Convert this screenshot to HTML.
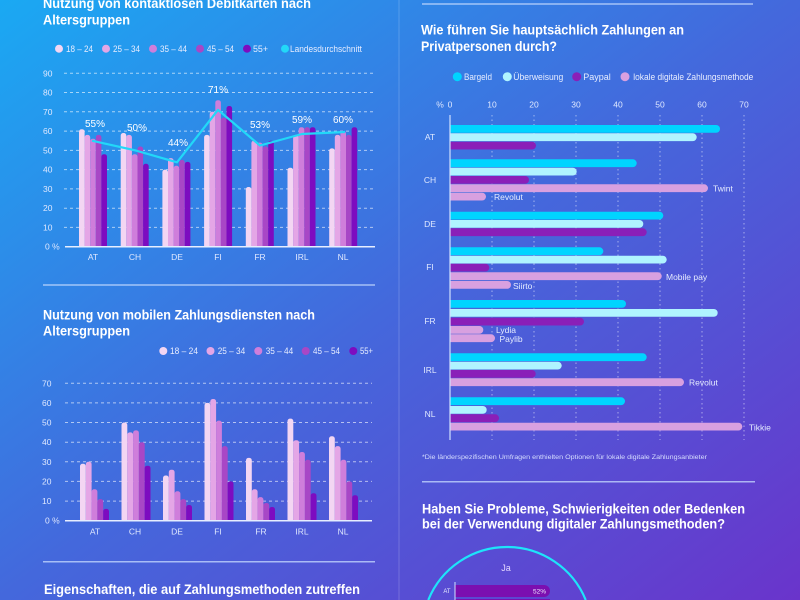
<!DOCTYPE html>
<html><head><meta charset="utf-8"><style>
html,body{margin:0;padding:0;width:800px;height:600px;overflow:hidden;background:#3f6fe0;}
svg{display:block;font-family:"Liberation Sans",sans-serif;}
</style></head><body>
<svg width="800" height="600" viewBox="0 0 800 600" xmlns="http://www.w3.org/2000/svg">
<defs>
<linearGradient id="bg" x1="0" y1="0" x2="1" y2="1">
<stop offset="0" stop-color="#1aa9f3"/><stop offset="0.5" stop-color="#4468dc"/><stop offset="1" stop-color="#6a34cb"/>
</linearGradient>
<clipPath id="c1"><rect x="0" y="0" width="400" height="246.7"/></clipPath>
<clipPath id="c2"><rect x="0" y="300" width="400" height="220.7"/></clipPath>
<clipPath id="c3"><rect x="450" y="100" width="350" height="350"/></clipPath>
</defs>
<rect width="800" height="600" fill="url(#bg)"/>
<line x1="399" y1="0" x2="399" y2="600" stroke="#ffffff" stroke-opacity="0.18" stroke-width="1"/>

<!-- ===== Chart 1 ===== -->
<g fill="#ffffff" font-weight="bold" font-size="14">
<text x="43" y="8" textLength="268" lengthAdjust="spacingAndGlyphs">Nutzung von kontaktlosen Debitkarten nach</text>
<text x="43" y="24.5" textLength="87" lengthAdjust="spacingAndGlyphs">Altersgruppen</text>
</g>
<g font-size="9" fill="#e6ecff">
<circle cx="59" cy="48.7" r="4" fill="#f3d6f3"/><text x="66" y="51.8" textLength="27" lengthAdjust="spacingAndGlyphs">18 – 24</text>
<circle cx="106" cy="48.7" r="4" fill="#e4a6e6"/><text x="113" y="51.8" textLength="27" lengthAdjust="spacingAndGlyphs">25 – 34</text>
<circle cx="153" cy="48.7" r="4" fill="#cf7edb"/><text x="160" y="51.8" textLength="27" lengthAdjust="spacingAndGlyphs">35 – 44</text>
<circle cx="200" cy="48.7" r="4" fill="#a847c6"/><text x="207" y="51.8" textLength="27" lengthAdjust="spacingAndGlyphs">45 – 54</text>
<circle cx="247" cy="48.7" r="4" fill="#7d0cc0"/><text x="253" y="51.8" textLength="15" lengthAdjust="spacingAndGlyphs">55+</text>
<circle cx="285" cy="48.7" r="4" fill="#22d8f8"/><text x="290" y="51.8" textLength="72" lengthAdjust="spacingAndGlyphs">Landesdurchschnitt</text>
</g>
<g stroke="#ffffff" stroke-opacity="0.6" stroke-width="1" stroke-dasharray="3,3">
<line x1="64" y1="73.3" x2="374" y2="73.3"/><line x1="64" y1="92.5" x2="374" y2="92.5"/>
<line x1="64" y1="111.8" x2="374" y2="111.8"/><line x1="64" y1="131.1" x2="374" y2="131.1"/>
<line x1="64" y1="150.4" x2="374" y2="150.4"/><line x1="64" y1="169.6" x2="374" y2="169.6"/>
<line x1="64" y1="188.9" x2="374" y2="188.9"/><line x1="64" y1="208.2" x2="374" y2="208.2"/>
<line x1="64" y1="227.4" x2="374" y2="227.4"/>
</g>
<g font-size="8.5" fill="#dfe8ff">
<text x="43" y="76.3">90</text><text x="43" y="95.5">80</text><text x="43" y="114.8">70</text>
<text x="43" y="134.1">60</text><text x="43" y="153.4">50</text><text x="43" y="172.6">40</text>
<text x="43" y="191.9">30</text><text x="43" y="211.2">20</text><text x="43" y="230.4">10</text>
<text x="45" y="249.7">0 %</text>
</g>
<g clip-path="url(#c1)">
<g fill="#f3d6f3"><rect x="79" y="129.2" width="5.6" height="150" rx="2.5"/><rect x="120.7" y="133" width="5.6" height="150" rx="2.5"/><rect x="162.4" y="169.6" width="5.6" height="150" rx="2.5"/><rect x="204.1" y="134.9" width="5.6" height="150" rx="2.5"/><rect x="245.8" y="187" width="5.6" height="150" rx="2.5"/><rect x="287.5" y="167.7" width="5.6" height="150" rx="2.5"/><rect x="329.2" y="148.4" width="5.6" height="150" rx="2.5"/></g>
<g fill="#e4a6e6"><rect x="84.6" y="134.9" width="5.6" height="150" rx="2.5"/><rect x="126.3" y="134.9" width="5.6" height="150" rx="2.5"/><rect x="168" y="158.1" width="5.6" height="150" rx="2.5"/><rect x="209.7" y="111.8" width="5.6" height="150" rx="2.5"/><rect x="251.4" y="140.7" width="5.6" height="150" rx="2.5"/><rect x="293.1" y="134.9" width="5.6" height="150" rx="2.5"/><rect x="334.8" y="134.9" width="5.6" height="150" rx="2.5"/></g>
<g fill="#cf7edb"><rect x="90.2" y="138.8" width="5.6" height="150" rx="2.5"/><rect x="131.9" y="154.2" width="5.6" height="150" rx="2.5"/><rect x="173.6" y="165.8" width="5.6" height="150" rx="2.5"/><rect x="215.3" y="100.2" width="5.6" height="150" rx="2.5"/><rect x="257" y="142.6" width="5.6" height="150" rx="2.5"/><rect x="298.7" y="127.2" width="5.6" height="150" rx="2.5"/><rect x="340.4" y="131.1" width="5.6" height="150" rx="2.5"/></g>
<g fill="#a847c6"><rect x="95.8" y="134.9" width="5.6" height="150" rx="2.5"/><rect x="137.5" y="146.5" width="5.6" height="150" rx="2.5"/><rect x="179.2" y="160" width="5.6" height="150" rx="2.5"/><rect x="220.9" y="117.6" width="5.6" height="150" rx="2.5"/><rect x="262.6" y="146.5" width="5.6" height="150" rx="2.5"/><rect x="304.3" y="127.2" width="5.6" height="150" rx="2.5"/><rect x="346" y="134.9" width="5.6" height="150" rx="2.5"/></g>
<g fill="#7d0cc0"><rect x="101.4" y="154.2" width="5.6" height="150" rx="2.5"/><rect x="143.1" y="163.8" width="5.6" height="150" rx="2.5"/><rect x="184.8" y="161.9" width="5.6" height="150" rx="2.5"/><rect x="226.5" y="106" width="5.6" height="150" rx="2.5"/><rect x="268.2" y="140.7" width="5.6" height="150" rx="2.5"/><rect x="309.9" y="127.2" width="5.6" height="150" rx="2.5"/><rect x="351.6" y="127.2" width="5.6" height="150" rx="2.5"/></g>
</g>
<line x1="65" y1="246.7" x2="375" y2="246.7" stroke="#e6eeff" stroke-width="1.5"/>
<polyline points="92,140.7 135,150.3 177,162.3 218,109.9 260,145.5 302,134 345,132" fill="none" stroke="#22d8f8" stroke-width="2.2" stroke-linejoin="round"/>
<g font-size="10" fill="#ffffff" text-anchor="middle">
<text x="95" y="127">55%</text><text x="137" y="131">50%</text><text x="178" y="146">44%</text>
<text x="218" y="93">71%</text><text x="260" y="128">53%</text><text x="302" y="123">59%</text><text x="343" y="123">60%</text>
</g>
<g font-size="8.5" fill="#dfe8ff" text-anchor="middle">
<text x="93" y="260">AT</text><text x="135" y="260">CH</text><text x="177" y="260">DE</text><text x="218" y="260">FI</text>
<text x="260" y="260">FR</text><text x="302" y="260">IRL</text><text x="343" y="260">NL</text>
</g>

<line x1="43" y1="285" x2="375" y2="285" stroke="#c8dcff" stroke-opacity="0.75" stroke-width="1.5"/>

<!-- ===== Chart 2 ===== -->
<g fill="#ffffff" font-weight="bold" font-size="14">
<text x="43" y="319.3" textLength="272" lengthAdjust="spacingAndGlyphs">Nutzung von mobilen Zahlungsdiensten nach</text>
<text x="43" y="335.7" textLength="87" lengthAdjust="spacingAndGlyphs">Altersgruppen</text>
</g>
<g font-size="9" fill="#e6ecff">
<circle cx="163.3" cy="351" r="4" fill="#f3d6f3"/><text x="170" y="354" textLength="28" lengthAdjust="spacingAndGlyphs">18 – 24</text>
<circle cx="210.5" cy="351" r="4" fill="#e4a6e6"/><text x="217.7" y="354" textLength="27.5" lengthAdjust="spacingAndGlyphs">25 – 34</text>
<circle cx="258.3" cy="351" r="4" fill="#cf7edb"/><text x="265.7" y="354" textLength="27.5" lengthAdjust="spacingAndGlyphs">35 – 44</text>
<circle cx="305.7" cy="351" r="4" fill="#a847c6"/><text x="313" y="354" textLength="27" lengthAdjust="spacingAndGlyphs">45 – 54</text>
<circle cx="353.3" cy="351" r="4" fill="#7d0cc0"/><text x="360" y="354" textLength="13" lengthAdjust="spacingAndGlyphs">55+</text>
</g>
<g stroke="#ffffff" stroke-opacity="0.6" stroke-width="1" stroke-dasharray="3,3">
<line x1="65" y1="383.3" x2="372" y2="383.3"/><line x1="65" y1="402.9" x2="372" y2="402.9"/>
<line x1="65" y1="422.5" x2="372" y2="422.5"/><line x1="65" y1="442.2" x2="372" y2="442.2"/>
<line x1="65" y1="461.8" x2="372" y2="461.8"/><line x1="65" y1="481.4" x2="372" y2="481.4"/>
<line x1="65" y1="501.1" x2="372" y2="501.1"/>
</g>
<g font-size="8.5" fill="#dfe8ff">
<text x="42" y="386.3">70</text><text x="42" y="405.9">60</text><text x="42" y="425.5">50</text>
<text x="42" y="445.2">40</text><text x="42" y="464.8">30</text><text x="42" y="484.4">20</text>
<text x="42" y="504.1">10</text><text x="45" y="523.7">0 %</text>
</g>
<g clip-path="url(#c2)">
<g fill="#f3d6f3"><rect x="80" y="463.8" width="5.8" height="58.2" rx="2.5"/><rect x="121.5" y="422.5" width="5.8" height="99.5" rx="2.5"/><rect x="163" y="475.5" width="5.8" height="46.5" rx="2.5"/><rect x="204.5" y="402.9" width="5.8" height="119.1" rx="2.5"/><rect x="246" y="457.9" width="5.8" height="64.1" rx="2.5"/><rect x="287.5" y="418.6" width="5.8" height="103.4" rx="2.5"/><rect x="329" y="436.3" width="5.8" height="85.7" rx="2.5"/></g>
<g fill="#e4a6e6"><rect x="85.8" y="461.8" width="5.8" height="60.2" rx="2.5"/><rect x="127.3" y="432.4" width="5.8" height="89.6" rx="2.5"/><rect x="168.8" y="469.7" width="5.8" height="52.3" rx="2.5"/><rect x="210.3" y="399" width="5.8" height="123" rx="2.5"/><rect x="251.8" y="489.3" width="5.8" height="32.7" rx="2.5"/><rect x="293.3" y="440.2" width="5.8" height="81.8" rx="2.5"/><rect x="334.8" y="446.1" width="5.8" height="75.9" rx="2.5"/></g>
<g fill="#cf7edb"><rect x="91.6" y="489.3" width="5.8" height="32.7" rx="2.5"/><rect x="133.1" y="430.4" width="5.8" height="91.6" rx="2.5"/><rect x="174.6" y="491.3" width="5.8" height="30.7" rx="2.5"/><rect x="216.1" y="420.6" width="5.8" height="101.4" rx="2.5"/><rect x="257.6" y="497.1" width="5.8" height="24.9" rx="2.5"/><rect x="299.1" y="452" width="5.8" height="70" rx="2.5"/><rect x="340.6" y="459.8" width="5.8" height="62.2" rx="2.5"/></g>
<g fill="#a847c6"><rect x="97.4" y="499.1" width="5.8" height="22.9" rx="2.5"/><rect x="138.9" y="442.2" width="5.8" height="79.8" rx="2.5"/><rect x="180.4" y="499.1" width="5.8" height="22.9" rx="2.5"/><rect x="221.9" y="446.1" width="5.8" height="75.9" rx="2.5"/><rect x="263.4" y="503" width="5.8" height="19" rx="2.5"/><rect x="304.9" y="459.8" width="5.8" height="62.2" rx="2.5"/><rect x="346.4" y="481.4" width="5.8" height="40.6" rx="2.5"/></g>
<g fill="#7d0cc0"><rect x="103.2" y="508.9" width="5.8" height="13.1" rx="2.5"/><rect x="144.7" y="465.7" width="5.8" height="56.3" rx="2.5"/><rect x="186.2" y="505" width="5.8" height="17" rx="2.5"/><rect x="227.7" y="481.4" width="5.8" height="40.6" rx="2.5"/><rect x="269.2" y="507" width="5.8" height="15" rx="2.5"/><rect x="310.7" y="493.2" width="5.8" height="28.8" rx="2.5"/><rect x="352.2" y="495.2" width="5.8" height="26.8" rx="2.5"/></g>
</g>
<line x1="65" y1="520.7" x2="372" y2="520.7" stroke="#e6eeff" stroke-width="1.5"/>
<g font-size="8.5" fill="#dfe8ff" text-anchor="middle">
<text x="95" y="534.7">AT</text><text x="135" y="534.7">CH</text><text x="177" y="534.7">DE</text><text x="218" y="534.7">FI</text>
<text x="261" y="534.7">FR</text><text x="302" y="534.7">IRL</text><text x="343" y="534.7">NL</text>
</g>

<line x1="43" y1="561.7" x2="375" y2="561.7" stroke="#c8dcff" stroke-opacity="0.75" stroke-width="1.5"/>
<text x="44" y="594" fill="#ffffff" font-weight="bold" font-size="14" textLength="316" lengthAdjust="spacingAndGlyphs">Eigenschaften, die auf Zahlungsmethoden zutreffen</text>

<!-- ===== Right chart ===== -->
<line x1="422" y1="4" x2="753" y2="4" stroke="#c8dcff" stroke-opacity="0.75" stroke-width="1.5"/>
<g fill="#ffffff" font-weight="bold" font-size="14">
<text x="421" y="34.3" textLength="263" lengthAdjust="spacingAndGlyphs">Wie führen Sie hauptsächlich Zahlungen an</text>
<text x="421" y="51" textLength="136" lengthAdjust="spacingAndGlyphs">Privatpersonen durch?</text>
</g>
<g font-size="9" fill="#e6ecff">
<circle cx="457.3" cy="76.7" r="4.5" fill="#00d4ff"/><text x="464" y="79.8" textLength="28" lengthAdjust="spacingAndGlyphs">Bargeld</text>
<circle cx="507.3" cy="76.7" r="4.5" fill="#b0f4ff"/><text x="513.3" y="79.8" textLength="50" lengthAdjust="spacingAndGlyphs">Überweisung</text>
<circle cx="576.7" cy="76.7" r="4.5" fill="#8a1fb8"/><text x="583.3" y="79.8" textLength="27.5" lengthAdjust="spacingAndGlyphs">Paypal</text>
<circle cx="625" cy="76.7" r="4.5" fill="#d8a0e0"/><text x="633.3" y="79.8" textLength="120" lengthAdjust="spacingAndGlyphs">lokale digitale Zahlungsmethode</text>
</g>
<g font-size="8.5" fill="#dfe8ff" text-anchor="middle">
<text x="440" y="107.5">%</text><text x="450" y="107.5">0</text><text x="492" y="107.5">10</text><text x="534" y="107.5">20</text>
<text x="576" y="107.5">30</text><text x="618" y="107.5">40</text><text x="660" y="107.5">50</text>
<text x="702" y="107.5">60</text><text x="744" y="107.5">70</text>
</g>
<g stroke="#ffffff" stroke-opacity="0.5" stroke-width="1" stroke-dasharray="1.5,3">
<line x1="492" y1="115" x2="492" y2="440"/><line x1="534" y1="115" x2="534" y2="440"/>
<line x1="576" y1="115" x2="576" y2="440"/><line x1="618" y1="115" x2="618" y2="440"/>
<line x1="660" y1="115" x2="660" y2="440"/><line x1="702" y1="115" x2="702" y2="440"/>
<line x1="744" y1="115" x2="744" y2="440"/>
</g>
<g clip-path="url(#c3)">
<g fill="#00d4ff">
<rect x="440" y="125" width="280" height="7.8" rx="3.9"/>
<rect x="440" y="159.3" width="196.7" height="7.8" rx="3.9"/>
<rect x="440" y="211.7" width="223.3" height="7.8" rx="3.9"/>
<rect x="440" y="247.3" width="163.3" height="7.8" rx="3.9"/>
<rect x="440" y="300" width="186" height="7.8" rx="3.9"/>
<rect x="440" y="353.3" width="206.7" height="7.8" rx="3.9"/>
<rect x="440" y="397.3" width="185" height="7.8" rx="3.9"/>
</g>
<g fill="#b0f4ff">
<rect x="440" y="133.3" width="256.7" height="7.8" rx="3.9"/>
<rect x="440" y="167.7" width="136.7" height="7.8" rx="3.9"/>
<rect x="440" y="220" width="203.3" height="7.8" rx="3.9"/>
<rect x="440" y="255.7" width="226.7" height="7.8" rx="3.9"/>
<rect x="440" y="309" width="277.7" height="7.8" rx="3.9"/>
<rect x="440" y="361.7" width="121.7" height="7.8" rx="3.9"/>
<rect x="440" y="406" width="46.7" height="7.8" rx="3.9"/>
</g>
<g fill="#8a1fb8">
<rect x="440" y="141.7" width="96" height="7.8" rx="3.9"/>
<rect x="440" y="176" width="89" height="7.8" rx="3.9"/>
<rect x="440" y="228.3" width="206.7" height="7.8" rx="3.9"/>
<rect x="440" y="263.7" width="49.3" height="7.8" rx="3.9"/>
<rect x="440" y="317.7" width="144" height="7.8" rx="3.9"/>
<rect x="440" y="370" width="95.7" height="7.8" rx="3.9"/>
<rect x="440" y="414.3" width="59" height="7.8" rx="3.9"/>
</g>
<g fill="#d8a0e0">
<rect x="440" y="184.3" width="268" height="7.8" rx="3.9"/>
<rect x="440" y="192.7" width="46" height="7.8" rx="3.9"/>
<rect x="440" y="272.3" width="221.7" height="7.8" rx="3.9"/>
<rect x="440" y="281" width="71" height="7.8" rx="3.9"/>
<rect x="440" y="326" width="43.3" height="7.8" rx="3.9"/>
<rect x="440" y="334.3" width="55" height="7.8" rx="3.9"/>
<rect x="440" y="378.3" width="244" height="7.8" rx="3.9"/>
<rect x="440" y="422.7" width="302.3" height="7.8" rx="3.9"/>
</g>
</g>
<line x1="450" y1="115" x2="450" y2="440" stroke="#d0e0ff" stroke-width="1.2"/>
<g font-size="8.5" fill="#e6ecff">
<text x="713" y="191.3">Twint</text><text x="494" y="200">Revolut</text>
<text x="666" y="280">Mobile pay</text><text x="513" y="289">Siirto</text>
<text x="496" y="333">Lydia</text><text x="499.5" y="342">Paylib</text>
<text x="689" y="385.5">Revolut</text><text x="749" y="430.5">Tikkie</text>
</g>
<g font-size="8.5" fill="#dfe8ff" text-anchor="middle">
<text x="430" y="140">AT</text><text x="430" y="183">CH</text><text x="430" y="227">DE</text>
<text x="430" y="270">FI</text><text x="430" y="324">FR</text><text x="430" y="373">IRL</text><text x="430" y="417">NL</text>
</g>
<text x="422" y="459" font-size="6.5" fill="#d6ddff" textLength="285" lengthAdjust="spacingAndGlyphs">*Die länderspezifischen Umfragen enthielten Optionen für lokale digitale Zahlungsanbieter</text>

<line x1="422" y1="481.7" x2="755" y2="481.7" stroke="#c8dcff" stroke-opacity="0.75" stroke-width="1.5"/>
<g fill="#ffffff" font-weight="bold" font-size="14">
<text x="422" y="513.3" textLength="323" lengthAdjust="spacingAndGlyphs">Haben Sie Probleme, Schwierigkeiten oder Bedenken</text>
<text x="422" y="528.3" textLength="303" lengthAdjust="spacingAndGlyphs">bei der Verwendung digitaler Zahlungsmethoden?</text>
</g>
<path d="M428.25,600 A85,85 0 0 1 585.75,600" fill="none" stroke="#1ee4fa" stroke-width="2.2"/>
<text x="506" y="571" font-size="9" fill="#e4d6ff" text-anchor="middle">Ja</text>
<path d="M455,585 H544 A6,6 0 0 1 544,597 H455 Z" fill="#7b0fb0"/>
<rect x="455" y="599" width="95" height="1" fill="#7b0fb0"/>
<line x1="455" y1="582" x2="455" y2="600" stroke="#d0e0ff" stroke-width="1"/>
<text x="447" y="593" font-size="6" fill="#e6ecff" text-anchor="middle">AT</text>
<text x="546" y="593.5" font-size="6.5" fill="#f0e6ff" text-anchor="end">52%</text>
</svg>
</body></html>
